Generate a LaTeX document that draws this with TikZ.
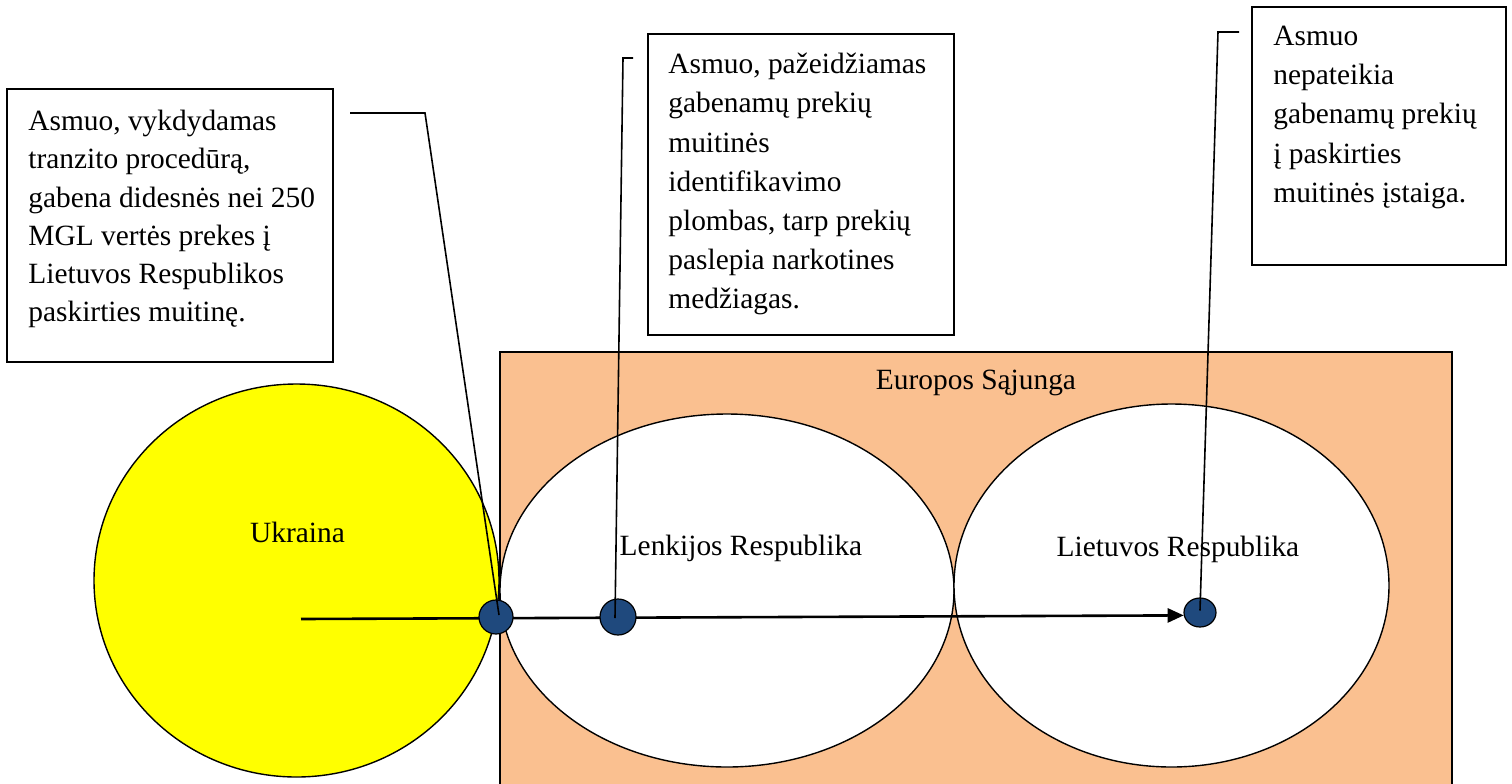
\documentclass[tikz,border=0pt]{standalone}
\usepackage{fontspec}
\setmainfont{Liberation Serif}
\usetikzlibrary{shapes.geometric,arrows.meta}
\definecolor{peach}{HTML}{FAC090}
\definecolor{ukyellow}{HTML}{FFFF00}
\definecolor{dotblue}{HTML}{1F497D}
\pgfdeclarelayer{back}
\pgfdeclarelayer{mid}
\pgfsetlayers{back,mid,main}
\begin{document}
\begin{tikzpicture}[x=0.5pt,y=-0.5pt,
  box/.style={draw=black,line width=0.9pt,fill=white,rectangle,inner sep=0pt},
  boxtext/.style={anchor=north west,inner sep=0pt,align=left},
  region/.style={draw=black,line width=0.7pt,ellipse,inner sep=0pt},
  lbl/.style={anchor=base,inner sep=0pt,font=\fontsize{14.7pt}{19pt}\selectfont},
  dot/.style={draw=black,line width=0.6pt,fill=dotblue,ellipse,inner sep=0pt},
  conn/.style={draw=black,line width=0.8pt},
  mainarrow/.style={draw=black,line width=1.3pt,-{Triangle[length=8pt,width=7pt]}}
]
\useasboundingbox (0,0) rectangle (1512,783);
\clip (0,0) rectangle (1512,783);

\begin{pgfonlayer}{back}
% European Union area
\draw[line width=0.9pt,fill=peach] (500,352) rectangle (1452,810);
\node[lbl] (eu) at (976,389) {Europos Sąjunga};

% regions
\node[region,fill=ukyellow,minimum width=202.5pt,minimum height=196.5pt] (ua) at (296.5,580.5) {};
\node[region,fill=white,minimum width=227pt,minimum height=176.5pt] (pl) at (727,590.5) {};
\node[region,fill=white,minimum width=217.5pt,minimum height=181.5pt] (lt) at (1171.5,585.5) {};

\node[lbl] (ualbl) at (297.5,542) {Ukraina};
\node[lbl] (pllbl) at (741,555) {Lenkijos Respublika};
\node[lbl] (ltlbl) at (1178,556) {Lietuvos Respublika};
\end{pgfonlayer}

% route points
\node[dot,minimum width=17pt,minimum height=17pt] (c1) at (496,617) {};
\node[dot,minimum width=18pt,minimum height=18pt] (c2) at (618,617) {};
\node[dot,minimum width=16pt,minimum height=14.5pt] (c3) at (1200,612.5) {};

% main arrow (beneath the dots)
\coordinate (a0) at (301,619);
\begin{pgfonlayer}{mid}
\draw[mainarrow] (a0) -- (c3.190);
\end{pgfonlayer}

% text boxes
\node[box,minimum width=163pt,minimum height=136.5pt] (b1) at (170,225.5) {};
\node[boxtext,font=\fontsize{14.7pt}{19.15pt}\selectfont] (t1) at (28,106)
  {\rule{0pt}{12pt}Asmuo, vykdydamas\\tranzito procedūrą,\\gabena didesnės nei 250\\MGL vertės prekes į\\Lietuvos Respublikos\\paskirties muitinę.};

\node[box,minimum width=153pt,minimum height=150.5pt] (b2) at (801,184.5) {};
\node[boxtext,font=\fontsize{14.7pt}{19.6pt}\selectfont] (t2) at (668,49.3)
  {\rule{0pt}{12pt}Asmuo, pažeidžiamas\\gabenamų prekių\\muitinės\\identifikavimo\\plombas, tarp prekių\\paslepia narkotines\\medžiagas.};

\node[box,minimum width=127pt,minimum height=129pt] (b3) at (1379,136) {};
\node[boxtext,font=\fontsize{14.7pt}{19.6pt}\selectfont] (t3) at (1273,21)
  {\rule{0pt}{12pt}Asmuo\\nepateikia\\gabenamų prekių\\į paskirties\\muitinės įstaiga.};

% callout connectors (drawn over the dots)
\coordinate (k1a) at (350,113);
\coordinate (k1b) at (425,113);
\coordinate (k2a) at (633,58);
\coordinate (k2b) at (623,58);
\coordinate (k3a) at (1239,32);
\coordinate (k3b) at (1218,32);
\draw[conn] (k1a) -- (k1b) -- ([shift={(3,-2)}]c1.center);
\draw[conn] (k2a) -- (k2b) -- ([shift={(-3,1)}]c2.center);
\draw[conn] (k3a) -- (k3b) -- ([shift={(0,-2)}]c3.center);
\end{tikzpicture}
\end{document}
